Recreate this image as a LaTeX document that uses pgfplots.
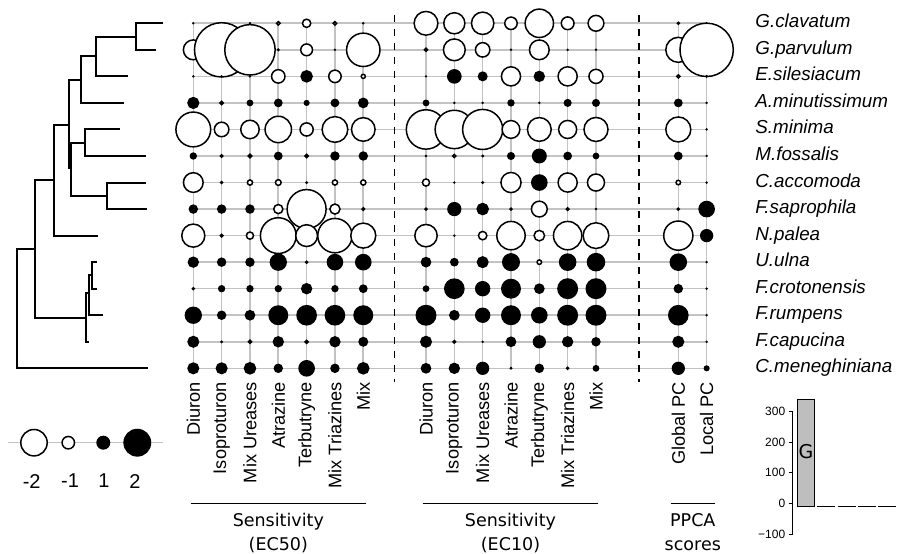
\documentclass[border=0pt]{standalone}
\usepackage{pgfplots}
\pgfplotsset{compat=1.18}
\usepackage{pgfplotstable}
\usepackage{fontspec}
\setmainfont{Liberation Sans}
\newfontfamily\dejavu{DejaVu Sans}
\definecolor{gridgray}{RGB}{195,195,195}
\definecolor{barfill}{RGB}{190,190,190}

% scaled sensitivities: one line per compound, one column per species (s1 = top row)
\pgfplotstableread{
x       s1    s2    s3    s4    s5    s6    s7    s8    s9    s10   s11   s12   s13   s14
193.30  0.10 -1.53  0.08  0.87 -2.60  0.52 -1.52  0.67 -1.76  0.81  0.24  1.24  0.86  0.86
221.63  0    -4.00  0     0.35 -1.15  0.29  0.24  0.67 -0.29  0.67  0.52  0.67  0.19  0.86
249.96  0    -3.72  0     0.48 -1.43  0.36 -0.48  0.67 -0.62  0.67  0.52  0.76  0.33  0.90
278.29 -0.35  0.20 -1.07  0.62 -2.00  0.62 -0.52 -0.76 -2.67  1.24  0.52  1.43  0.81  0.67
306.62 -0.70 -0.95  0.90  0.43 -1.05  0.36  0.19 -2.90 -1.67  0.24  0.81  1.48  0.33  1.19
334.95 -0.35  0.10 -1.00  0.62 -1.95  0.67 -0.48 -0.83 -2.57  1.19  0.52  1.48  0.81  0.67
363.28  0.10 -2.50 -0.40  0.76 -1.80  0.67 -0.48 -0.29 -1.90  1.19  0.62  1.43  0.71  0.90
426.00 -1.81  0.33  0     0.48 -2.93  0    -0.62  0.24 -1.71  0.76  0.48  1.50  0.86  0.76
454.33 -1.62 -1.67  1.05  0    -2.86 -0.33  0     1.02  0     0.62  1.48  0.76 -0.29  0.81
482.66 -1.71 -1.14  0.71  0.14 -2.98  0.19  0.19  0.90 -0.71  0.86  1.10  1.10  0     0.95
510.99 -1.00  0    -1.48  0.52 -1.38  0.57 -1.55  0.24 -2.14  1.29  1.43  1.43  0.76  0.19
539.32 -2.14 -1.52  0.81  0.10 -1.81  1.07  1.19 -1.24 -0.86 -0.43  0.76  1.19  0.95  0.67
567.65 -1.02  0    -1.48  0.57 -1.40  0.62 -1.48 -0.29 -2.14  1.26  1.50  1.50  0.81  0.24
595.98 -1.24  0.15 -1.12  0.57 -1.83  0.48 -1.33  0    -1.95  1.33  1.50  1.50  0.67  0.48
678.30 -0.24 -1.90 -0.33  0.62 -1.90  0.62 -0.43  0.24 -2.20  1.26  0.67  1.48  0.86  0.95
706.63  0    -3.93  0.20  0     0.14  0.10  0.10  1.19  0.95  0     0.14  0.14  0.14  0.43
}\sens

% tree, drawn as polylines (nan breaks the line)
\pgfplotstableread{
x     y
163.3 530.7
135.7 530.7
135.7 504.16
156.0 504.16
nan   nan
135.7 517.4
96.0  517.4
96.0  477.62
127.7 477.62
nan   nan
96.0  497.5
80.7  497.5
80.7  451.08
124.3 451.08
nan   nan
80.7  474.3
69.3  474.3
69.3  384.7
nan   nan
120.0 424.54
85.0  424.54
85.0  398.0
146.0 398.0
nan   nan
85.0  410.7
70.7  410.7
70.7  357.7
107.3 357.7
nan   nan
146.0 371.46
107.3 371.46
107.3 344.92
146.7 344.92
nan   nan
69.3  429.0
54.3  429.0
54.3  318.38
98.3  318.38
nan   nan
54.3  374.0
35.0  374.0
35.0  236.3
86.0  236.3
nan   nan
96.7  291.84
91.7  291.84
91.7  265.3
96.7  265.3
nan   nan
91.7  279.0
88.5  279.0
88.5  238.76
102.7 238.76
nan   nan
88.5  260.7
86.0  260.7
86.0  212.22
89.3  212.22
nan   nan
35.0  305.3
17.3  305.3
17.3  185.68
147.7 185.68
}\tree

\pgfplotsset{
  bw/.style={colormap={bw}{rgb255=(255,255,255) rgb255=(0,0,0)},
    point meta min=0, point meta max=1},
  bubble/.style={scatter, only marks, mark=*, line width=1.5bp,
    scatter/use mapped color={draw=black, fill=mapped color},
    point meta={\thisrow{#1}>0},
    visualization depends on={max(7*abs(\thisrow{#1})-0.75,0.3) \as \rad},
    visualization depends on={\thisrow{#1}!=0 \as \vis},
    scatter/@pre marker code/.append style={/tikz/mark size=\rad, /tikz/opacity=\vis}},
}

\begin{document}
\begin{tikzpicture}
\path[use as bounding box] (0,0) rectangle (897bp,554bp);

\begin{axis}[bw,
  at={(193.2bp,185.6bp)}, anchor=south west, scale only axis,
  width=513.5bp, height=345.2bp,
  xmin=193.2, xmax=706.7, ymin=185.6, ymax=530.8, clip=false,
  axis line style={draw=none}, tick style={draw=none},
  grid=major, major grid style={gridgray, line width=1.6bp},
  xtick={193.3,221.63,249.96,278.29,306.62,334.95,363.28,426,454.33,482.66,510.99,539.32,567.65,595.98,678.3,706.63},
  xticklabels={Diuron,Isoproturon,Mix Ureases,Atrazine,Terbutryne,Mix Triazines,Mix,
               Diuron,Isoproturon,Mix Ureases,Atrazine,Terbutryne,Mix Triazines,Mix,
               Global PC,Local PC},
  xticklabel style={rotate=90, anchor=east, inner sep=0pt, font=\fontsize{18.2bp}{20bp}\selectfont},
  xticklabel shift=13.4bp,
  ytick={185.68,212.22,238.76,265.3,291.84,318.38,344.92,371.46,398.0,424.54,451.08,477.62,504.16,530.7},
  yticklabels={C.meneghiniana,F.capucina,F.rumpens,F.crotonensis,U.ulna,N.palea,F.saprophila,
               C.accomoda,M.fossalis,S.minima,A.minutissimum,E.silesiacum,G.parvulum,G.clavatum},
  yticklabel pos=right,
  yticklabel style={anchor=base west, inner sep=0pt, yshift=-4.5bp,
                    font=\fontsize{18.8bp}{21bp}\selectfont\itshape},
  yticklabel shift=48.5bp,
]
\addplot[black, line width=2bp, unbounded coords=jump] table[x=x, y=y] {\tree};
\addplot[black, line width=1.4bp, dash pattern=on 7bp off 7bp] coordinates {(394.3,539) (394.3,172.3)};
\addplot[black, line width=1.4bp, dash pattern=on 7bp off 7bp] coordinates {(639,539) (639,172.3)};
\addplot[bubble=s1]  table[x=x, y expr=530.7]  {\sens};
\addplot[bubble=s2]  table[x=x, y expr=504.16] {\sens};
\addplot[bubble=s3]  table[x=x, y expr=477.62] {\sens};
\addplot[bubble=s4]  table[x=x, y expr=451.08] {\sens};
\addplot[bubble=s5]  table[x=x, y expr=424.54] {\sens};
\addplot[bubble=s6]  table[x=x, y expr=398.0]  {\sens};
\addplot[bubble=s7]  table[x=x, y expr=371.46] {\sens};
\addplot[bubble=s8]  table[x=x, y expr=344.92] {\sens};
\addplot[bubble=s9]  table[x=x, y expr=318.38] {\sens};
\addplot[bubble=s10] table[x=x, y expr=291.84] {\sens};
\addplot[bubble=s11] table[x=x, y expr=265.3]  {\sens};
\addplot[bubble=s12] table[x=x, y expr=238.76] {\sens};
\addplot[bubble=s13] table[x=x, y expr=212.22] {\sens};
\addplot[bubble=s14] table[x=x, y expr=185.68] {\sens};
\end{axis}

% size legend
\begin{axis}[bw,
  at={(0bp,100bp)}, anchor=south west, scale only axis,
  width=170bp, height=22bp, xmin=0, xmax=170, ymin=100, ymax=122, clip=false,
  axis line style={draw=none}, tick style={draw=none}, ytick=\empty,
  xtick={31.7,70,104,135}, xticklabels={-2,-1,1,2},
  xticklabel style={anchor=north, inner sep=0pt, font=\fontsize{20bp}{22bp}\selectfont},
  xticklabel shift=20bp,
]
\addplot[gridgray, line width=1.6bp] coordinates {(8.3,111.3) (163.3,111.3)};
\addplot[bubble=v] table[x=x, y expr=111.3] {
x     v
34.0  -2
68.3  -1
103.3  1
137.3  2
};
\end{axis}

% eigenvalue bars
\begin{axis}[
  at={(792.7bp,20bp)}, anchor=south west, scale only axis,
  width=104.2bp, height=122.3bp, xmin=0.345, xmax=5.48, ymin=-100, ymax=300, clip=false,
  axis x line=none, axis y line*=left, ytick pos=left, xtick=\empty,
  ytick={-100,0,100,200,300}, yticklabels={−100,0,100,200,300},
  tick align=outside, major tick length=4bp,
  axis line style={line width=0.8bp}, tick style={line width=0.8bp, black},
  yticklabel style={font=\fontsize{12bp}{14bp}\selectfont},
]
\addplot[fill=barfill, draw=black, line width=0.9bp] coordinates {(0.58,-11) (0.58,341) (1.42,341) (1.42,-11)} -- cycle;
\addplot[fill=barfill, draw=black, line width=0.9bp] coordinates {(1.58,-11) (1.58,-10) (2.42,-10) (2.42,-11)} -- cycle;
\addplot[fill=barfill, draw=black, line width=0.9bp] coordinates {(2.58,-11) (2.58,-10) (3.42,-10) (3.42,-11)} -- cycle;
\addplot[fill=barfill, draw=black, line width=0.9bp] coordinates {(3.58,-11) (3.58,-10) (4.42,-10) (4.42,-11)} -- cycle;
\addplot[fill=barfill, draw=black, line width=0.9bp] coordinates {(4.58,-11) (4.58,-10) (5.42,-10) (5.42,-11)} -- cycle;
\node[font=\dejavu\fontsize{19bp}{21bp}\selectfont] at (axis cs:1,168.7) {G};
\end{axis}

% group labels
\draw[line width=1.5bp] (190.7bp,50.7bp) -- (366bp,50.7bp);
\draw[line width=1.5bp] (422.7bp,50.7bp) -- (598.3bp,50.7bp);
\draw[line width=1.5bp] (670.7bp,50.7bp) -- (715bp,50.7bp);
\begin{scope}[every node/.style={anchor=base, inner sep=0pt, font=\dejavu\fontsize{17.5bp}{20bp}\selectfont}]
\node at (278.3bp,27.3bp) {Sensitivity};
\node at (278.3bp,4bp) {(EC50)};
\node at (510.5bp,27.3bp) {Sensitivity};
\node at (510.5bp,4bp) {(EC10)};
\node at (692.8bp,27.3bp) {PPCA};
\node at (692.8bp,4bp) {scores};
\end{scope}
\end{tikzpicture}
\end{document}
